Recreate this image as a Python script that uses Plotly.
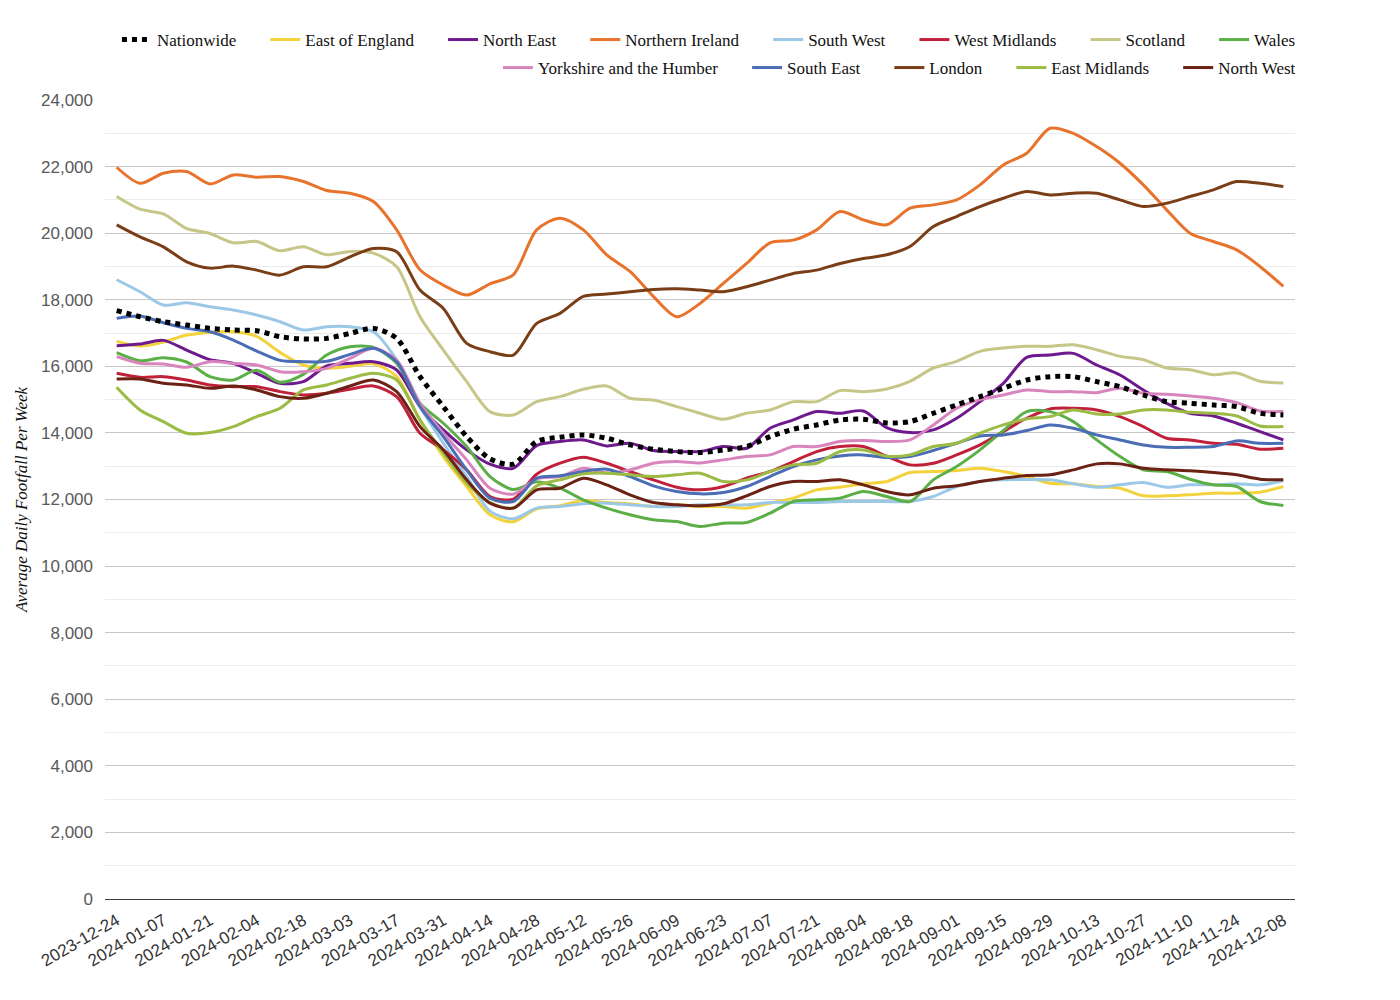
import plotly.graph_objects as go
import pandas as pd

weeks = [d.strftime("%Y-%m-%d") for d in pd.date_range("2023-12-24", "2024-12-08", freq="7D")]

nationwide = [17675, 17490, 17340, 17240, 17140, 17090, 17070, 16890, 16820, 16840, 16990, 17140, 16840, 15690, 14790, 13890, 13220, 13060, 13740,
              13870, 13940, 13840, 13640, 13510, 13440, 13410, 13490, 13590, 13890, 14110, 14240, 14390, 14410, 14300,
              14340, 14590, 14840, 15090, 15340, 15590, 15690, 15690, 15540, 15390, 15140, 14940, 14890, 14840, 14790, 14590, 14540]
east_of_england = [16750, 16610, 16730, 16940, 17020, 17040, 16900, 16420, 16040, 15940, 16000, 16080, 15690, 14390, 13290, 12390, 11540, 11330, 11720,
                   11810, 11970, 11910, 11870, 11790, 11840, 11790, 11790, 11740, 11890, 12040, 12290, 12370, 12470, 12540,
                   12810, 12840, 12870, 12940, 12840, 12690, 12490, 12470, 12390, 12340, 12110, 12110, 12140, 12190, 12190, 12220, 12390]
north_east = [16620, 16670, 16780, 16490, 16200, 16090, 15790, 15490, 15540, 16010, 16090, 16140, 15890, 14790, 14090, 13490, 13060, 12940, 13620,
              13740, 13790, 13610, 13690, 13470, 13440, 13440, 13590, 13540, 14140, 14390, 14640, 14590, 14660, 14160,
              14010, 14090, 14440, 14940, 15490, 16270, 16340, 16390, 16040, 15740, 15290, 14890, 14590, 14510, 14290, 14040, 13790]
northern_ireland = [21980, 21500, 21800, 21850, 21480, 21750, 21680, 21700, 21550, 21280, 21200, 20950, 20100, 18900, 18440, 18140, 18480,
                    18750, 20100, 20450, 20100, 19350, 18850, 18100, 17490, 17890, 18490, 19090, 19710, 19790, 20100, 20650, 20400, 20250,
                    20750, 20850, 21000, 21450, 22050, 22400, 23150, 23000, 22600, 22100, 21450, 20700, 20000, 19750, 19500, 19000, 18400]
south_west = [18600, 18240, 17840, 17910, 17790, 17690, 17540, 17340, 17090, 17190, 17190, 17040, 16190, 14790, 13690, 12690, 11650,
              11420, 11740, 11790, 11870, 11890, 11840, 11790, 11790, 11840, 11840, 11840, 11910, 11910, 11910, 11940, 11940, 11940,
              11940, 12090, 12390, 12540, 12590, 12600, 12590, 12470, 12370, 12440, 12510, 12370, 12440, 12440, 12470, 12440, 12560]
west_midlands = [15790, 15670, 15690, 15590, 15440, 15390, 15390, 15240, 15140, 15190, 15310, 15410, 15090, 13990, 13490, 12890, 12090, 12010, 12760,
                 13090, 13270, 13090, 12840, 12590, 12370, 12290, 12390, 12640, 12840, 13140, 13440, 13590, 13590, 13300,
                 13040, 13090, 13340, 13640, 14040, 14440, 14720, 14740, 14690, 14490, 14190, 13840, 13790, 13690, 13660, 13510, 13540]
scotland = [21100, 20720, 20580, 20140, 19990, 19710, 19750, 19470, 19590, 19350, 19450, 19400, 18990, 17490, 16490, 15540, 14640,
            14540, 14940, 15090, 15310, 15410, 15040, 14990, 14790, 14590, 14410, 14590, 14690, 14940, 14940, 15270, 15240, 15320,
            15550, 15950, 16150, 16450, 16550, 16600, 16600, 16650, 16500, 16300, 16200, 15950, 15900, 15750, 15800, 15550, 15500]
wales = [16410, 16170, 16260, 16130, 15690, 15590, 15880, 15520, 15760, 16340, 16590, 16570, 16090, 14890, 14290, 13590, 12690, 12300, 12530,
         12340, 11990, 11740, 11540, 11390, 11340, 11190, 11290, 11310, 11590, 11940, 11990, 12040, 12240, 12090,
         11940, 12590, 12990, 13490, 14070, 14640, 14640, 14340, 13790, 13290, 12890, 12840, 12610, 12440, 12390, 11940, 11820]
yorkshire = [16290, 16090, 16070, 15970, 16140, 16090, 16040, 15840, 15840, 15940, 16240, 16540, 16190, 14890, 13990, 13190, 12340, 12160, 12620,
             12690, 12940, 12800, 12890, 13090, 13140, 13100, 13190, 13290, 13340, 13590, 13590, 13740, 13770, 13740,
             13790, 14240, 14740, 15000, 15140, 15290, 15240, 15240, 15210, 15340, 15190, 15160, 15110, 15040, 14910, 14660, 14640]
south_east = [17440, 17510, 17310, 17140, 17040, 16790, 16460, 16180, 16140, 16150, 16360, 16540, 16140, 14790, 13890, 12890, 12040, 11940, 12640,
              12710, 12840, 12910, 12690, 12410, 12240, 12170, 12210, 12390, 12690, 12990, 13190, 13310, 13340, 13260,
              13290, 13470, 13690, 13910, 13940, 14070, 14240, 14140, 13940, 13790, 13640, 13570, 13570, 13590, 13760, 13690, 13690]
london = [20250, 19890, 19590, 19140, 18950, 19010, 18890, 18740, 18990, 18990, 19290, 19540, 19440, 18290, 17740, 16690, 16440,
          16340, 17290, 17590, 18100, 18170, 18240, 18310, 18330, 18290, 18240, 18390, 18590, 18790, 18890, 19090, 19240, 19350,
          19600, 20200, 20500, 20800, 21050, 21250, 21150, 21200, 21200, 21000, 20800, 20900, 21100, 21300, 21550, 21500, 21400]
east_midlands = [15370, 14690, 14340, 13990, 14010, 14190, 14490, 14740, 15290, 15440, 15640, 15790, 15590, 14390, 13390, 12490, 11910, 11750, 12410,
                 12590, 12770, 12790, 12740, 12690, 12740, 12790, 12540, 12590, 12840, 13040, 13090, 13440, 13490, 13300,
                 13340, 13590, 13690, 13990, 14240, 14420, 14490, 14690, 14570, 14570, 14690, 14690, 14620, 14590, 14510, 14210, 14190]
north_west = [15620, 15620, 15490, 15440, 15340, 15410, 15290, 15090, 15040, 15190, 15410, 15590, 15240, 14190, 13490, 12590, 11890, 11740, 12290,
              12340, 12640, 12440, 12140, 11910, 11840, 11810, 11870, 12110, 12390, 12540, 12540, 12590, 12440, 12240,
              12140, 12340, 12410, 12540, 12640, 12720, 12740, 12890, 13070, 13070, 12940, 12890, 12860, 12810, 12740, 12610, 12590]

y_tick_vals = [0, 2000, 4000, 6000, 8000, 10000, 12000, 14000, 16000, 18000, 20000, 22000, 24000]

# (name, values, colour, legend row, last-in-row)
series = [
    ("East of England", east_of_england, "#F3D23B", "legend", False),
    ("North East", north_east, "#6E1A8E", "legend", False),
    ("Northern Ireland", northern_ireland, "#E8732C", "legend", False),
    ("South West", south_west, "#9CC8E8", "legend", False),
    ("West Midlands", west_midlands, "#C0203A", "legend", False),
    ("Scotland", scotland, "#C7C689", "legend", False),
    ("Wales", wales, "#5BAF46", "legend", True),
    ("Yorkshire and the Humber", yorkshire, "#D985BD", "legend2", False),
    ("South East", south_east, "#4A6DB6", "legend2", False),
    ("London", london, "#7A3E17", "legend2", False),
    ("East Midlands", east_midlands, "#9BBB44", "legend2", False),
    ("North West", north_west, "#6B2214", "legend2", True),
]

PAD = "\u00a0" * 5 + "\u2006"  # extra spacing between legend entries

fig = go.Figure()
for rank, (name, vals, color, lg, last) in enumerate(series, start=2):
    fig.add_trace(go.Scatter(
        x=weeks, y=vals, name=name if last else name + PAD, mode="lines",
        line=dict(color=color, width=3, shape="spline", smoothing=0.8),
        legend=lg, legendrank=rank,
    ))
fig.add_trace(go.Scatter(
    x=weeks, y=nationwide, name="Nationwide" + PAD, mode="lines",
    line=dict(color="#000000", width=5, dash="dot", shape="spline", smoothing=0.8),
    legend="legend", legendrank=1,
))

legend_font = dict(family="Liberation Serif, Times New Roman, serif", size=17, color="#111111")
leg_x = 1.005

fig.update_layout(
    width=1400, height=1000,
    paper_bgcolor="white", plot_bgcolor="white",
    margin=dict(l=97, r=113, t=92, b=109),
    showlegend=True,
    legend=dict(orientation="h", x=leg_x, xanchor="right", y=(891 - 32) / 799, yanchor="middle",
                font=legend_font, bgcolor="rgba(0,0,0,0)", traceorder="normal", itemwidth=30),
    legend2=dict(orientation="h", x=leg_x, xanchor="right", y=(891 - 60) / 799, yanchor="middle",
                 font=legend_font, bgcolor="rgba(0,0,0,0)", traceorder="normal", itemwidth=30),
    xaxis=dict(
        type="category",
        range=[-0.5, len(weeks) - 0.5],
        tickmode="array",
        tickvals=weeks[::2], ticktext=weeks[::2],
        tickangle=-30,
        tickfont=dict(family="Liberation Sans, Arial, sans-serif", size=17, color="#333333"),
        ticklabelstandoff=4,
        showgrid=False,
        showline=True, linecolor="#404040", linewidth=1.3,
        ticks="",
        zeroline=False,
    ),
    yaxis=dict(
        range=[0, 24000],
        tickmode="array", tickvals=y_tick_vals,
        tickformat=",d",
        tickfont=dict(family="Liberation Sans, Arial, sans-serif", size=17, color="#595959"),
        ticklabelstandoff=11,
        showgrid=True, gridcolor="#C8C8C8", gridwidth=1,
        minor=dict(dtick=1000, showgrid=True, gridcolor="#EBEBEB", gridwidth=1),
        zeroline=False, showline=False, ticks="",
        title=dict(text="Average Daily Footfall Per Week",
                   font=dict(family="Liberation Serif, Times New Roman, serif", size=17, color="#111111", style="italic"),
                   standoff=9),
    ),
)

fig.write_html("out.html")
